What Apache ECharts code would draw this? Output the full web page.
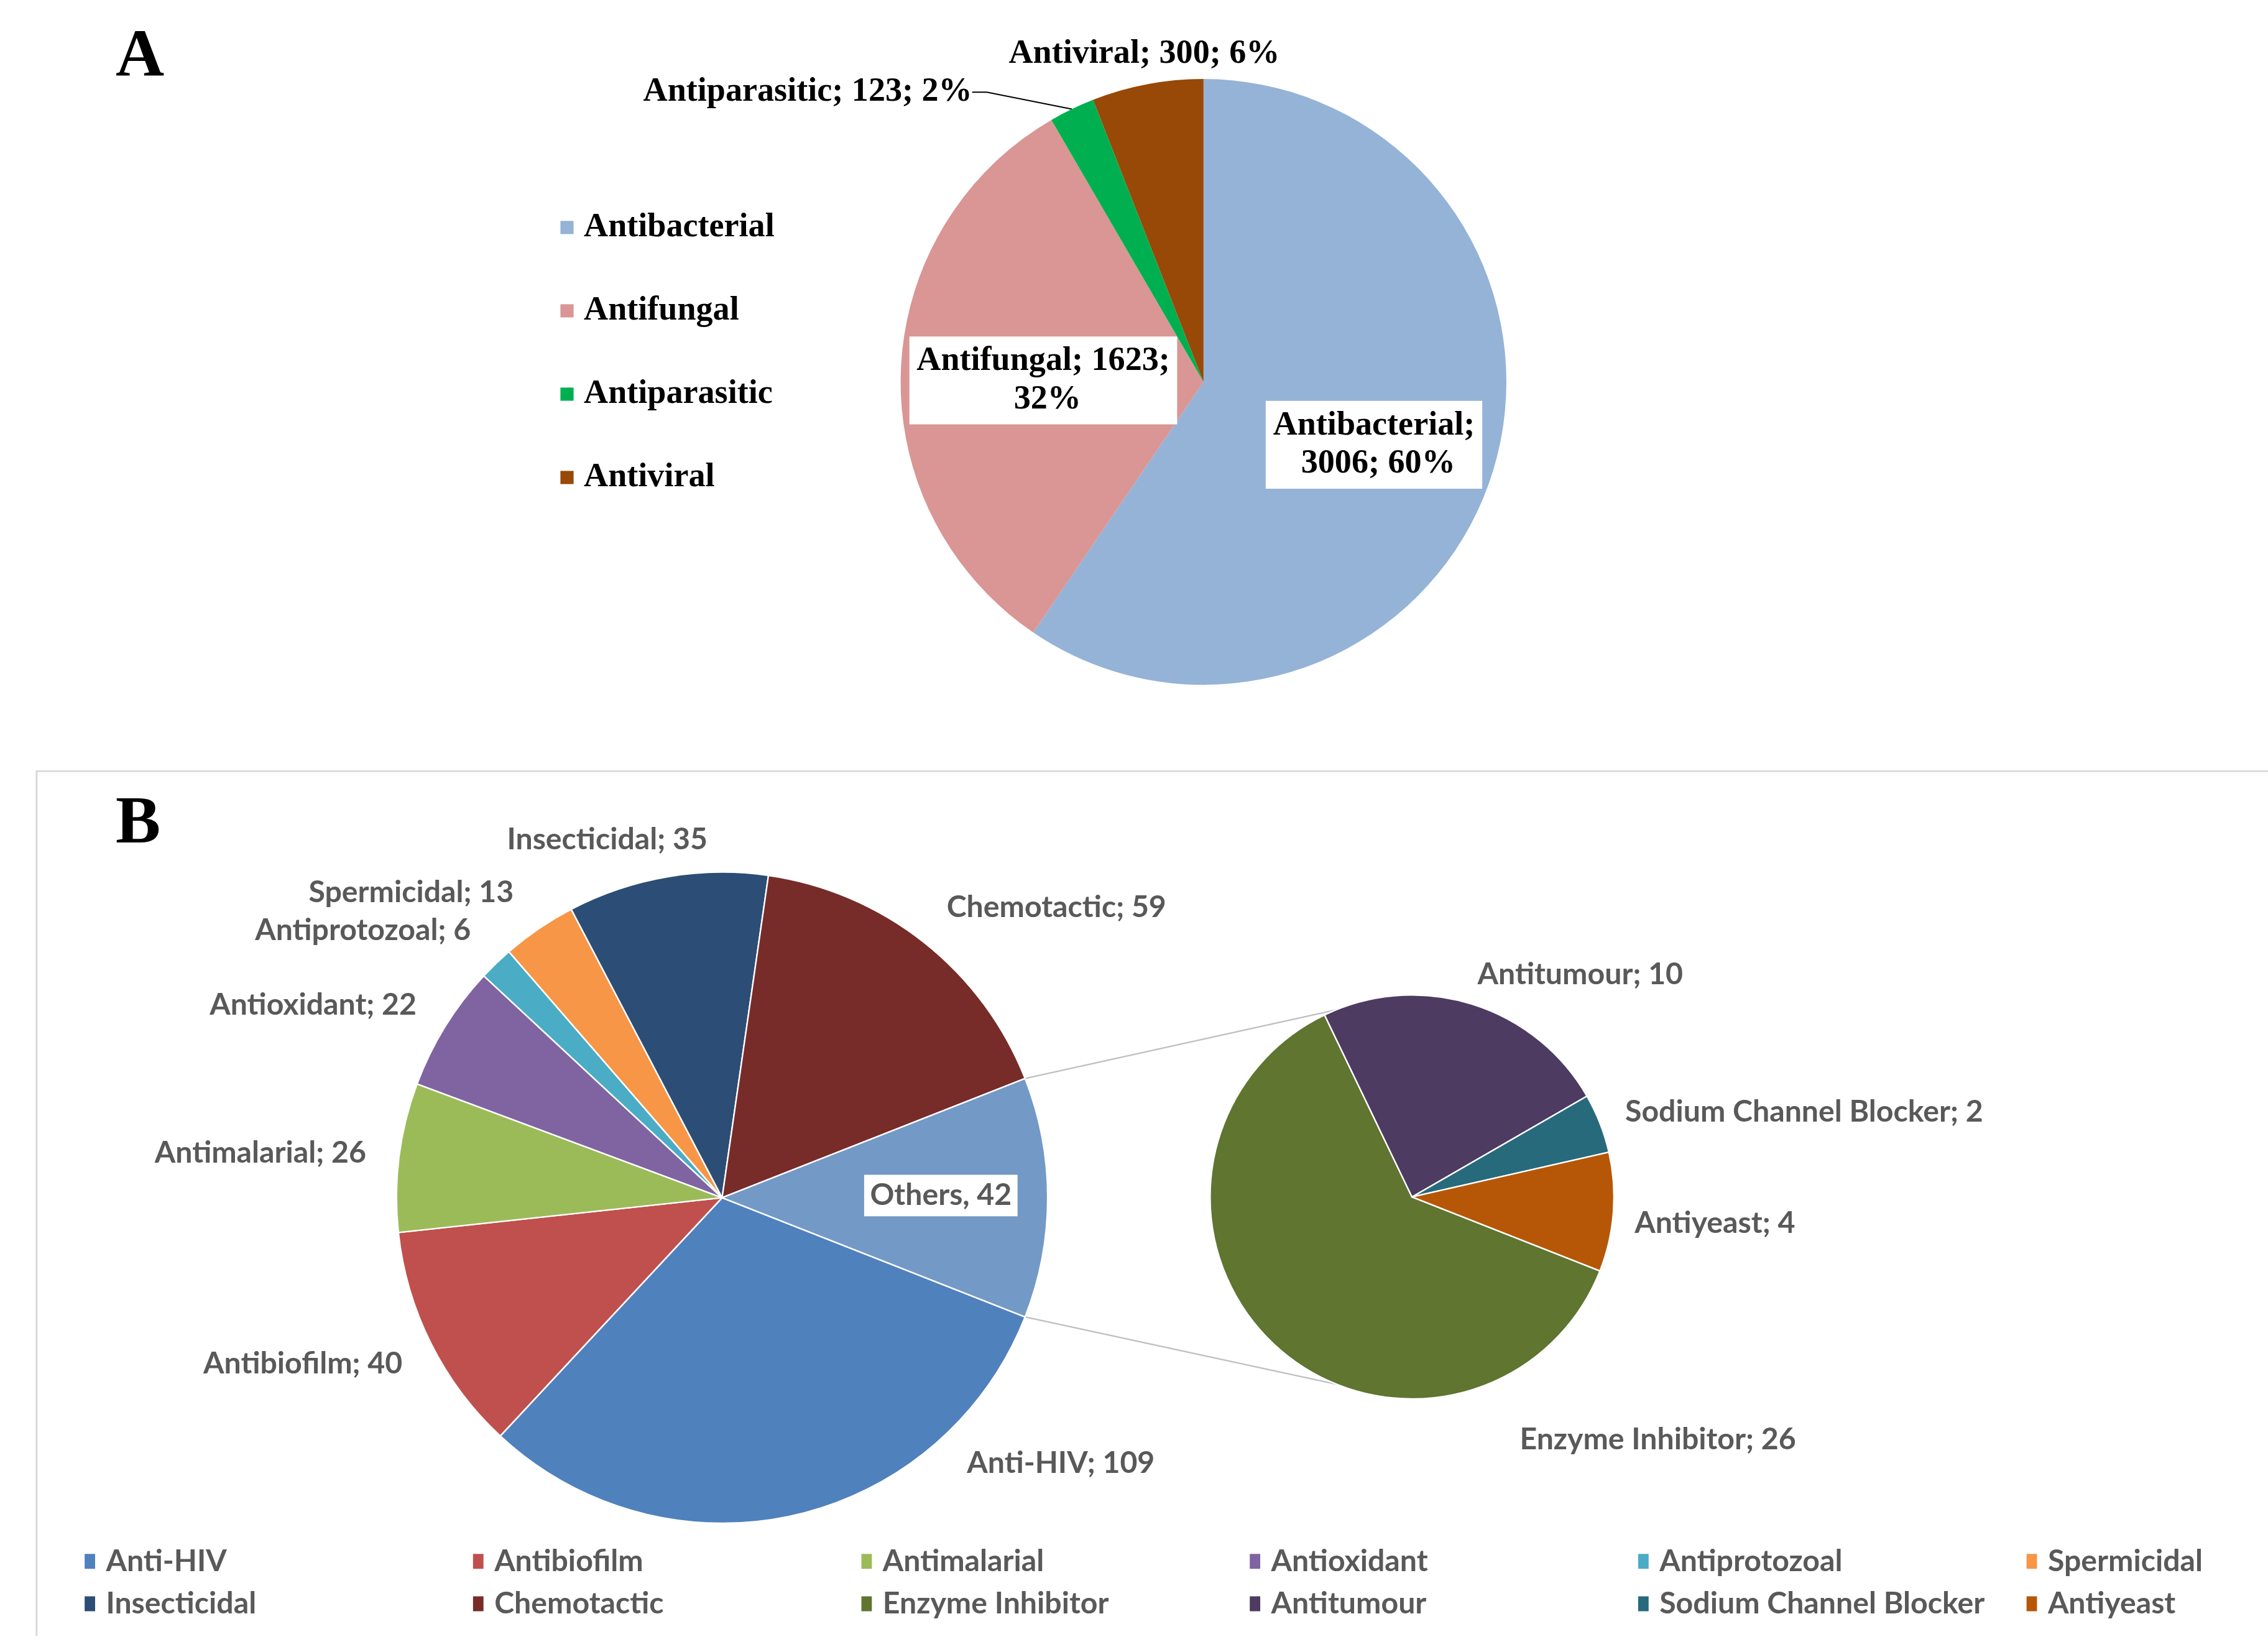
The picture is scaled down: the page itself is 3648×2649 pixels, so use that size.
<!DOCTYPE html>
<html>
<head>
<meta charset="utf-8">
<script src="https://cdn.jsdelivr.net/npm/echarts@6/dist/echarts.min.js"></script>
<style>
  html, body { margin: 0; height: 100%; background: #fff; }
  #chart { width: 100%; height: 100%; }
</style>
</head>
<body>
<div id="chart"></div>
<script>
// A: activity of the peptides
const catA = ['Antibacterial', 'Antifungal', 'Antiparasitic', 'Antiviral'];
const valA = [3006, 1623, 123, 300];

// B: other activities, main pie ("Others" is the sum of the small pie)
const catB = ['Anti-HIV', 'Antibiofilm', 'Antimalarial', 'Antioxidant', 'Antiprotozoal', 'Spermicidal', 'Insecticidal', 'Chemotactic'];
const valB = [109, 40, 26, 22, 6, 13, 35, 59];
const othersName = 'Others';

// B: secondary pie
const catSub = ['Enzyme Inhibitor', 'Antitumour', 'Sodium Channel Blocker', 'Antiyeast'];
const valSub = [26, 10, 2, 4];

const colA = ['#95B3D7', '#D99694', '#00B050', '#984807'];
const colB = ['#4F81BD', '#C0504D', '#9BBB59', '#8064A2', '#4BACC6', '#F79646', '#2C4D75', '#772C2A'];
const colOthers = '#7399C6';
const colSub = ['#5F7530', '#4D3B62', '#276A7C', '#B65708'];

// where the data labels sit (layout units, page is 1550 wide)
const spotA = [[939, 304], [713, 260], [552, 63], [782, 37]];
const spotB = [[725, 1000], [207, 932], [178, 788], [214, 687], [248, 636], [281, 610], [415, 574], [722, 620], [643, 817]];
const spotSub = [[1133, 984], [1080, 666], [1233, 760], [1172, 836]];

const el = document.getElementById('chart');
const chart = echarts.init(el);
const S = el.clientWidth / 1550;
const u = v => v * S;

const pieA = { c: [822.5, 261], r: 207 };
const pieB = { c: [493.5, 818.5], r: 222.5 };
const pieSub = { c: [965, 818], r: 138 };

const totalA = valA.reduce((a, b) => a + b, 0);
const othersVal = valSub.reduce((a, b) => a + b, 0);
const totalB = valB.reduce((a, b) => a + b, 0) + othersVal;
const othersAngle = 360 * othersVal / totalB;
const startB = -othersAngle / 2;   // "Others" faces the small pie

const serif = 'Liberation Serif';
const sans = 'Lato';
const grey = '#595959';
const fsA = 23;
const fsB = 20.5;

function spotLayout(spots) {
  return function (params) {
    const p = spots[params.dataIndex];
    return { x: u(p[0]), y: u(p[1]), align: 'center', verticalAlign: 'middle' };
  };
}

// connector lines between the "Others" slice and the small pie
function pt(pie, deg) {
  const a = deg * Math.PI / 180;
  return [u(pie.c[0] + pie.r * Math.cos(a)), u(pie.c[1] - pie.r * Math.sin(a))];
}
const conTop = [pt(pieB, othersAngle / 2), pt(pieSub, 112)];
const conBot = [pt(pieB, -othersAngle / 2), pt(pieSub, 248)];

const legendB = catB.concat(catSub);
const legendCol = 265;
function legendRow(names, y) {
  return {
    data: names,
    orient: 'horizontal',
    left: u(57),
    top: u(y - 11),
    width: u(1700),
    padding: 0,
    itemGap: 0,
    icon: 'rect',
    itemWidth: u(8),
    itemHeight: u(11),
    selectedMode: false,
    textStyle: {
      fontFamily: sans, fontSize: u(fsB), color: grey, fontWeight: 'bold',
      lineHeight: u(22), width: u(legendCol - 8 - 7), padding: [0, 0, 0, u(7) - 5]
    }
  };
}

chart.setOption({
  backgroundColor: '#fff',
  animation: false,
  legend: [
    {
      data: catA,
      orient: 'vertical',
      left: u(383),
      top: u(155 - 11),
      padding: 0,
      itemGap: u(56 - 22),
      icon: 'rect',
      itemWidth: u(9),
      itemHeight: u(9),
      selectedMode: false,
      textStyle: {
        fontFamily: serif, fontSize: u(fsA), fontWeight: 'bold', color: '#000',
        lineHeight: u(22), padding: [0, 0, 0, u(7) - 5]
      }
    },
    legendRow(legendB.slice(0, 6), 1067),
    legendRow(legendB.slice(6), 1096)
  ],
  graphic: [
    { type: 'polyline', shape: { points: [[u(25), u(1118)], [u(25), u(527)], [u(1552), u(527)]] },
      style: { stroke: '#D9D9D9', lineWidth: u(1.2), fill: null } },
    { type: 'text', left: u(79), top: u(17),
      style: { text: 'A', fontFamily: serif, fontWeight: 'bold', fontSize: u(46), fill: '#000' } },
    { type: 'text', left: u(79), top: u(541),
      style: { text: 'B', fontFamily: serif, fontWeight: 'bold', fontSize: u(46), fill: '#000' } },
    { type: 'line', shape: { x1: conTop[0][0], y1: conTop[0][1], x2: conTop[1][0], y2: conTop[1][1] },
      style: { stroke: '#BFBFBF', lineWidth: u(1) } },
    { type: 'line', shape: { x1: conBot[0][0], y1: conBot[0][1], x2: conBot[1][0], y2: conBot[1][1] },
      style: { stroke: '#BFBFBF', lineWidth: u(1) } }
  ],
  series: [
    {
      name: 'A',
      type: 'pie',
      center: [u(pieA.c[0]), u(pieA.c[1])],
      radius: u(pieA.r),
      startAngle: 90,
      clockwise: true,
      avoidLabelOverlap: false,
      emphasis: { disabled: true },
      label: {
        show: true,
        position: 'outside',
        fontFamily: serif, fontWeight: 'bold', fontSize: u(fsA), color: '#000', lineHeight: u(26),
        formatter: p => p.name + '; ' + p.value + '; ' + Math.round(p.value / totalA * 100) + '%'
      },
      labelLine: { show: false },
      labelLayout: spotLayout(spotA),
      data: catA.map((n, i) => {
        const d = { name: n, value: valA[i], itemStyle: { color: colA[i] } };
        if (i < 2) {
          d.label = { backgroundColor: '#fff', padding: [u(4), u(3)], width: u(i === 0 ? 142 : 177), overflow: 'break', align: 'center' };
        }
        if (n === 'Antiparasitic') {
          d.labelLine = { show: true, length: u(10), length2: u(10), lineStyle: { color: '#000', width: u(0.8) } };
        }
        return d;
      })
    },
    {
      name: 'B',
      type: 'pie',
      center: [u(pieB.c[0]), u(pieB.c[1])],
      radius: u(pieB.r),
      startAngle: startB,
      clockwise: true,
      avoidLabelOverlap: false,
      emphasis: { disabled: true },
      itemStyle: { borderColor: '#fff', borderWidth: u(1) },
      label: {
        show: true,
        position: 'outside',
        fontFamily: sans, fontWeight: 'bold', fontSize: u(fsB), color: grey,
        formatter: p => p.name === othersName ? p.name + ', ' + p.value : p.name + '; ' + p.value
      },
      labelLine: { show: false },
      labelLayout: spotLayout(spotB),
      data: catB.map((n, i) => ({ name: n, value: valB[i], itemStyle: { color: colB[i] } }))
        .concat([{ name: othersName, value: othersVal, itemStyle: { color: colOthers },
          label: { backgroundColor: '#fff', padding: [u(4), u(4)] } }])
    },
    {
      name: 'B detail',
      type: 'pie',
      center: [u(pieSub.c[0]), u(pieSub.c[1])],
      radius: u(pieSub.r),
      startAngle: startB,
      clockwise: true,
      avoidLabelOverlap: false,
      emphasis: { disabled: true },
      itemStyle: { borderColor: '#fff', borderWidth: u(1) },
      label: {
        show: true,
        position: 'outside',
        fontFamily: sans, fontWeight: 'bold', fontSize: u(fsB), color: grey,
        formatter: '{b}; {c}'
      },
      labelLine: { show: false },
      labelLayout: spotLayout(spotSub),
      data: catSub.map((n, i) => ({ name: n, value: valSub[i], itemStyle: { color: colSub[i] } }))
    }
  ]
});
</script>
</body>
</html>
